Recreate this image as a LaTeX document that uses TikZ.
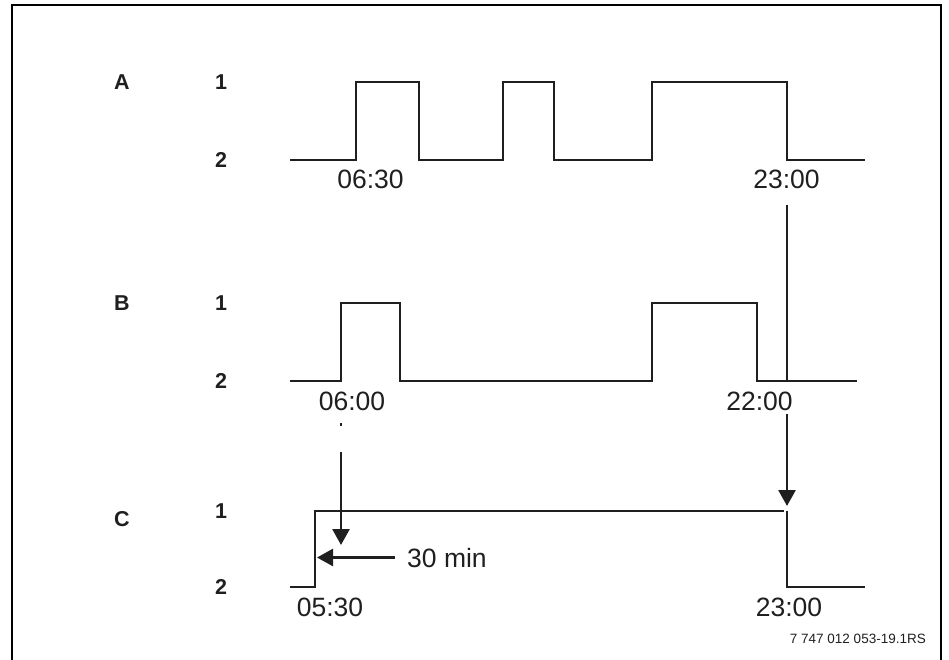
\documentclass[tikz,border=0pt]{standalone}
\usepackage{fontspec}
\setmainfont{Liberation Sans}
\usetikzlibrary{arrows.meta}
\begin{document}
\begin{tikzpicture}[x=1pt,y=-1pt,
  sig/.style={line width=2.6pt, draw=black!88, line join=miter},
  lbl/.style={font=\fontsize{21.5}{24}\selectfont\bfseries, inner sep=0pt, text=black!88},
  tim/.style={font=\fontsize{26.5}{30}\selectfont, inner sep=0pt, anchor=base, text=black!88},
  arr/.style={line width=2.6pt, draw=black!88, -{Triangle[width=17pt,length=16pt]}}]
\useasboundingbox (0,0) rectangle (949,660);
\draw[line width=2pt] (12,662) -- (12,5) -- (941,5) -- (941,662);
% row labels
\node[lbl] (lA) at (122,82) {A};
\node[lbl] (lB) at (122,303) {B};
\node[lbl] (lC) at (122,519) {C};
\node[lbl] (a1) at (221,82) {1};
\node[lbl] (a2) at (221,160) {2};
\node[lbl] (b1) at (221,303) {1};
\node[lbl] (b2) at (221,381) {2};
\node[lbl] (c1) at (221,511) {1};
\node[lbl] (c2) at (221,587) {2};
% signal A
\draw[sig] (290,160) -- (356,160) -- (356,82) -- (419,82) -- (419,160) -- (503,160) -- (503,82) -- (554,82) -- (554,160) -- (652,160) -- (652,82) -- (787,82) -- (787,160) -- (865,160);
% signal B
\draw[sig] (290,381) -- (341,381) -- (341,303) -- (400,303) -- (400,381) -- (652,381) -- (652,303) -- (757,303) -- (757,381) -- (857,381);
% signal C
\draw[sig] (290,587) -- (315,587) -- (315,511) -- (784,511);
\draw[sig] (787,511) -- (787,587) -- (865,587);
% time labels
\node[tim] (tA1) at (370.5,189) {06:30};
\node[tim] (tA2) at (786.5,189) {23:00};
\node[tim] (tB1) at (352,410) {06:00};
\node[tim] (tB2) at (759.5,410) {22:00};
\node[tim] (tC1) at (330,616) {05:30};
\node[tim] (tC2) at (789,616) {23:00};
\node[tim, anchor=base west] (tmin) at (407,567) {30 min};
% arrows
\coordinate (r1) at (787,205);
\coordinate (r2) at (787,381);
\coordinate (r3) at (787,414);
\coordinate (r4) at (787,506);
\draw[sig] (r1) -- (r2);
\draw[arr] (r3) -- (r4);
\coordinate (l0) at (341,423);
\coordinate (l00) at (341,425.5);
\coordinate (l1) at (341,452);
\coordinate (l2) at (341,545);
\draw[sig, line width=1.6pt] (l0) -- (l00);
\draw[arr] (l1) -- (l2);
\coordinate (h1) at (395,557.5);
\coordinate (h2) at (317,557.5);
\draw[arr] (h1) -- (h2);
% footnote
\node[font=\fontsize{13.5}{16}\selectfont, anchor=east, inner sep=0pt, text=black!88] (fn) at (926,639) {7 747 012 053-19.1RS};
\end{tikzpicture}
\end{document}
